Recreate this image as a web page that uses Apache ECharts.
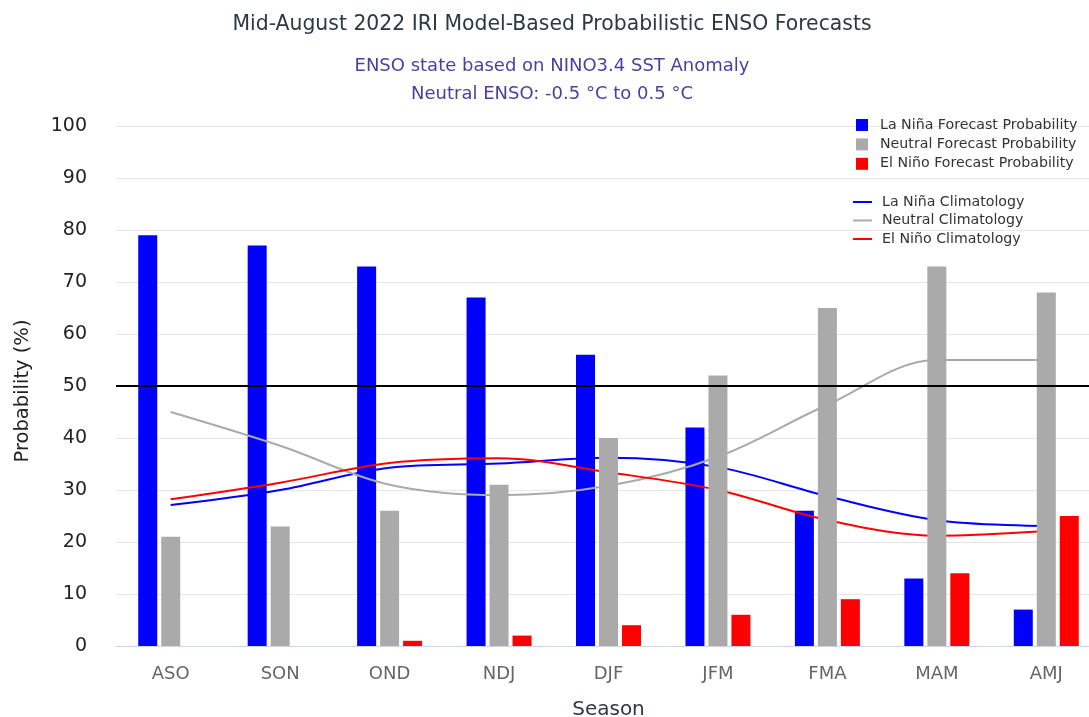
<!DOCTYPE html>
<html>
<head>
<meta charset="utf-8">
<script src="https://cdn.jsdelivr.net/npm/echarts@6/dist/echarts.min.js"></script>
<style>
html,body{margin:0;padding:0;background:#fff;overflow:hidden;}
#chart{width:1089px;height:717px;}
</style>
</head>
<body>
<div id="chart"></div>
<script>
const seasons = ['ASO','SON','OND','NDJ','DJF','JFM','FMA','MAM','AMJ'];
const laNinaProb  = [79, 77, 73, 67, 56, 42, 26, 13, 7];
const neutralProb = [21, 23, 26, 31, 40, 52, 65, 73, 68];
const elNinoProb  = [0, 0, 1, 2, 4, 6, 9, 14, 25];
const laNinaClim  = [27.1, 30, 34.3, 35.1, 36.2, 34.4, 28.8, 24.2, 23.1];
const neutralClim = [45, 38.5, 31, 29, 30.8, 36.4, 46.4, 55, 55];
const elNinoClim  = [28.2, 31.4, 35.2, 36.1, 33.4, 30, 24.2, 21.2, 22.1];
const yTicks = [0,10,20,30,40,50,60,70,80,90,100];
const refLine = 50;

const FONT = 'DejaVu Sans';
const chart = echarts.init(document.getElementById('chart'), null, {renderer:'canvas'});
const option = {
  animation: false,
  backgroundColor: '#ffffff',
  textStyle: {fontFamily: FONT},
  title: [
    {text: 'Mid-August 2022 IRI Model-Based Probabilistic ENSO Forecasts', left: 547, top: 10, textAlign: 'center',
     textStyle: {fontFamily: FONT, fontSize: 20.4, fontWeight: 'normal', color: '#2b3a42'}},
    {text: 'ENSO state based on NINO3.4 SST Anomaly', left: 547, top: 52, textAlign: 'center',
     textStyle: {fontFamily: FONT, fontSize: 18, fontWeight: 'normal', color: '#4b3f9f'}},
    {text: 'Neutral ENSO: -0.5 °C to 0.5 °C', left: 547, top: 80, textAlign: 'center',
     textStyle: {fontFamily: FONT, fontSize: 18, fontWeight: 'normal', color: '#4b3f9f'}}
  ],
  grid: {left: 116, top: 126, width: 985, height: 520, outerBoundsMode: 'none', containLabel: false},
  legend: [
    {data: ['La Niña Forecast Probability','Neutral Forecast Probability','El Niño Forecast Probability'],
     orient: 'vertical', left: 851, top: 113, icon: 'rect', itemWidth: 12, itemHeight: 12, itemGap: 5.4,
     textStyle: {fontFamily: FONT, fontSize: 14.2, color: '#333', lineHeight: 12, padding: [0,0,0,7]}},
    {data: ['La Niña Climatology','Neutral Climatology','El Niño Climatology'],
     orient: 'vertical', left: 848, top: 190, icon: 'rect', itemWidth: 19, itemHeight: 2, itemGap: 4.5,
     textStyle: {fontFamily: FONT, fontSize: 14.2, color: '#333', lineHeight: 12, padding: [0,0,0,5]}}
  ],
  xAxis: {
    type: 'category', data: seasons, boundaryGap: true,
    axisTick: {show: false},
    axisLine: {lineStyle: {color: '#ccd6eb', width: 1}},
    axisLabel: {fontFamily: FONT, fontSize: 18, color: '#666', margin: 19},
    name: 'Season', nameLocation: 'middle', nameGap: 54,
    nameTextStyle: {fontFamily: FONT, fontSize: 20, color: '#2b3a42'}
  },
  yAxis: {
    type: 'value', min: yTicks[0], max: yTicks[yTicks.length-1], interval: 10,
    axisLine: {show: false}, axisTick: {show: false},
    splitLine: {lineStyle: {color: '#e6e6e6', width: 1}},
    axisLabel: {fontFamily: FONT, fontSize: 19, color: '#222', margin: 29},
    name: 'Probability (%)', nameLocation: 'middle', nameGap: 83, nameRotate: 90,
    nameTextStyle: {fontFamily: FONT, fontSize: 19.5, color: '#222', padding: [0,10,0,0]}
  },
  series: [
    {name: 'ref', type: 'line', data: [], z: 1, silent: true,
     markLine: {silent: true, symbol: ['none','none'], label: {show: false},
       lineStyle: {color: '#000', width: 2, type: 'solid'}, data: [{yAxis: refLine}]}},
    {name: 'La Niña Forecast Probability', type: 'bar', data: laNinaProb, z: 2,
     barWidth: 19, barGap: '21%', itemStyle: {color: '#0000ff'}},
    {name: 'Neutral Forecast Probability', type: 'bar', data: neutralProb, z: 4,
     barWidth: 19, barGap: '21%', itemStyle: {color: '#aaaaaa'}},
    {name: 'El Niño Forecast Probability', type: 'bar', data: elNinoProb, z: 4,
     barWidth: 19, barGap: '21%', itemStyle: {color: '#ff0000'}},
    {name: 'La Niña Climatology', type: 'line', data: laNinaClim, smooth: 0.35, symbol: 'none', z: 3,
     lineStyle: {color: '#0000ff', width: 2}, itemStyle: {color: '#0000ff'}},
    {name: 'Neutral Climatology', type: 'line', data: neutralClim, smooth: 0.35, symbol: 'none', z: 3,
     lineStyle: {color: '#aaaaaa', width: 2}, itemStyle: {color: '#aaaaaa'}},
    {name: 'El Niño Climatology', type: 'line', data: elNinoClim, smooth: 0.35, symbol: 'none', z: 3,
     lineStyle: {color: '#ff0000', width: 2}, itemStyle: {color: '#ff0000'}}
  ]
};
chart.setOption(option);
</script>
</body>
</html>
